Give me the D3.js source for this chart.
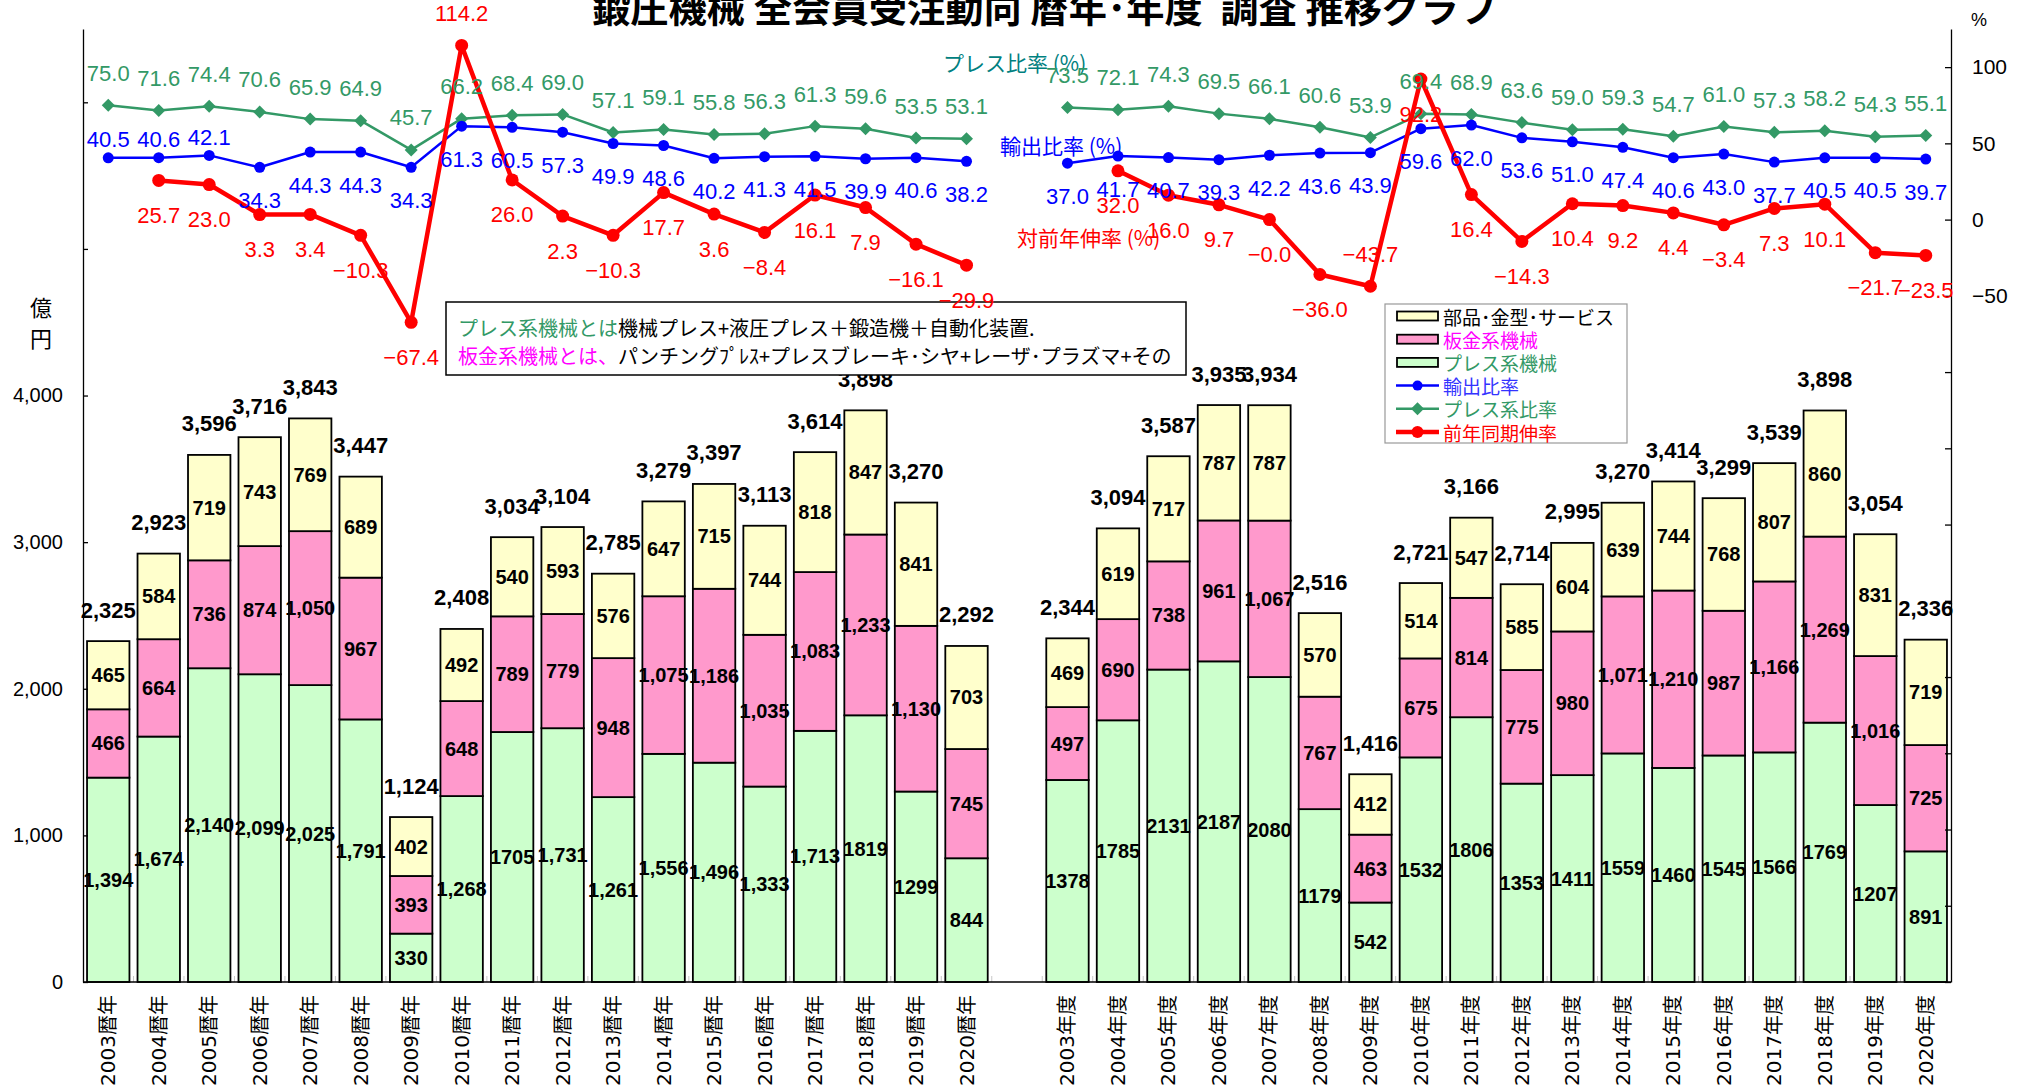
<!DOCTYPE html>
<html><head><meta charset="utf-8">
<script src="https://cdn.jsdelivr.net/npm/d3@7"></script>
<style>body{margin:0;background:#fff} svg{display:block}</style>
</head><body>
<svg id="c" width="2024" height="1092"></svg>
<script>
// ---------- DATA ----------
const categoriesCal = ["2003暦年","2004暦年","2005暦年","2006暦年","2007暦年","2008暦年","2009暦年","2010暦年","2011暦年","2012暦年","2013暦年","2014暦年","2015暦年","2016暦年","2017暦年","2018暦年","2019暦年","2020暦年"];
const categoriesFy = ["2003年度","2004年度","2005年度","2006年度","2007年度","2008年度","2009年度","2010年度","2011年度","2012年度","2013年度","2014年度","2015年度","2016年度","2017年度","2018年度","2019年度","2020年度"];

// 億円
const pressCal = [1394,1674,2140,2099,2025,1791,330,1268,1705,1731,1261,1556,1496,1333,1713,1819,1299,844];
const sheetCal = [466,664,736,874,1050,967,393,648,789,779,948,1075,1186,1035,1083,1233,1130,745];
const partsCal = [465,584,719,743,769,689,402,492,540,593,576,647,715,744,818,847,841,703];
const totalCal = [2325,2923,3596,3716,3843,3447,1124,2408,3034,3104,2785,3279,3397,3113,3614,3898,3270,2292];

const pressFy = [1378,1785,2131,2187,2080,1179,542,1532,1806,1353,1411,1559,1460,1545,1566,1769,1207,891];
const sheetFy = [497,690,738,961,1067,767,463,675,814,775,980,1071,1210,987,1166,1269,1016,725];
const partsFy = [469,619,717,787,787,570,412,514,547,585,604,639,744,768,807,860,831,719];
const totalFy = [2344,3094,3587,3935,3934,2516,1416,2721,3166,2714,2995,3270,3414,3299,3539,3898,3054,2336];

// %
const pressRatioCal = [75.0,71.6,74.4,70.6,65.9,64.9,45.7,66.2,68.4,69.0,57.1,59.1,55.8,56.3,61.3,59.6,53.5,53.1];
const exportRatioCal = [40.5,40.6,42.1,34.3,44.3,44.3,34.3,61.3,60.5,57.3,49.9,48.6,40.2,41.3,41.5,39.9,40.6,38.2];
const growthCal = [null,25.7,23.0,3.3,3.4,-10.3,-67.4,114.2,26.0,2.3,-10.3,17.7,3.6,-8.4,16.1,7.9,-16.1,-29.9];

const pressRatioFy = [73.5,72.1,74.3,69.5,66.1,60.6,53.9,69.4,68.9,63.6,59.0,59.3,54.7,61.0,57.3,58.2,54.3,55.1];
const exportRatioFy = [37.0,41.7,40.7,39.3,42.2,43.6,43.9,59.6,62.0,53.6,51.0,47.4,40.6,43.0,37.7,40.5,40.5,39.7];
const growthFy = [null,32.0,16.0,9.7,-0.0,-36.0,-43.7,92.2,16.4,-14.3,10.4,9.2,4.4,-3.4,7.3,10.1,-21.7,-23.5];

// axis ticks
const leftTicks = [0,1000,2000,3000,4000,5000,6000];
const leftTickLabels = ["0","1,000","2,000","3,000","4,000","",""];
const rightTicks = [-500,-450,-400,-350,-300,-250,-200,-150,-100,-50,0,50,100];
const rightTickLabels = ["","","","","","","","","","−50","0","50","100"];

// label placement exceptions
const exportLabelAbove = ["2003暦年","2004暦年","2005暦年"];
const growthLabelAbove = ["2010暦年","2009年度"];
const pressNoComma = ["2011暦年","2018暦年","2019暦年"].concat(categoriesFy);

// texts
const titleText = "鍛圧機械 全会員受注動向 暦年･年度  調査 推移グラフ";
const legendItems = [
  {label:"部品･金型･サービス", kind:"bar", key:"parts", color:"#000000"},
  {label:"板金系機械", kind:"bar", key:"sheet", color:"#FF00FF"},
  {label:"プレス系機械", kind:"bar", key:"press", color:"#339966"},
  {label:"輸出比率", kind:"line", key:"ex", color:"#3333FF"},
  {label:"プレス系比率", kind:"line", key:"pr", color:"#339966"},
  {label:"前年同期伸率", kind:"line", key:"gr", color:"#FF0000"}
];

// ---------- CHART ----------
const svg = d3.select("#c");
const NUM = "'Liberation Sans', Arial, 'Noto Sans CJK JP', sans-serif";
const CJK = "'Noto Sans CJK JP', 'Liberation Sans', sans-serif";
const plot = {left:83, right:1951, top:29, bottom:982};

const allCats = [...categoriesCal, "__gap__", ...categoriesFy];
const x = d3.scaleBand().domain(allCats).range([plot.left, plot.right]).paddingInner(0.16).paddingOuter(0.08);
const yL = d3.scaleLinear().domain([0,6500]).range([plot.bottom, plot.top]);
const yR = d3.scaleLinear().domain([-500,125]).range([plot.bottom, plot.top]);
const cx = c => x(c) + x.bandwidth()/2;

const rows = categoriesCal.map((c,i)=>({cat:c, press:pressCal[i], sheet:sheetCal[i], parts:partsCal[i], total:totalCal[i], pr:pressRatioCal[i], ex:exportRatioCal[i], gr:growthCal[i]}))
  .concat(categoriesFy.map((c,i)=>({cat:c, press:pressFy[i], sheet:sheetFy[i], parts:partsFy[i], total:totalFy[i], pr:pressRatioFy[i], ex:exportRatioFy[i], gr:growthFy[i]})));
const calRows = rows.slice(0, categoriesCal.length);
const fyRows = rows.slice(categoriesCal.length);

const fills = {press:"#CCFFCC", sheet:"#FF99CC", parts:"#FFFFCC"};
const layers = d3.stack().keys(["press","sheet","parts"])(rows);

// category boundary ticks (light)
const gTicks = svg.append("g").attr("stroke","#c8c8c8").attr("stroke-width",1);
allCats.forEach((c,i)=>{
  const bx = x(c) - (x.step()-x.bandwidth())/2;
  if (i>0) gTicks.append("line").attr("x1",bx).attr("x2",bx).attr("y1",plot.bottom).attr("y2",plot.bottom-6);
});

// bars
const gBars = svg.append("g");
layers.forEach(layer=>{
  gBars.append("g").selectAll("rect").data(layer).join("rect")
    .attr("x", d=>x(d.data.cat)).attr("width", x.bandwidth())
    .attr("y", d=>yL(d[1])).attr("height", d=>yL(d[0])-yL(d[1]))
    .attr("fill", fills[layer.key]).attr("stroke","#000").attr("stroke-width",1.8);
});

// axes
const gL = svg.append("g").attr("transform",`translate(${plot.left},0)`)
  .call(d3.axisLeft(yL).tickValues(leftTicks).tickSize(-5).tickSizeOuter(0).tickPadding(20).tickFormat((d,i)=>leftTickLabels[i]));
gL.attr("font-size",20).attr("font-family",NUM);
gL.selectAll("text").attr("fill","#000");
gL.selectAll("line,path").attr("stroke","#000").attr("stroke-width",1.3);

const gR = svg.append("g").attr("transform",`translate(${plot.right},0)`)
  .call(d3.axisRight(yR).tickValues(rightTicks).tickSize(-6).tickSizeOuter(0).tickPadding(21).tickFormat((d,i)=>rightTickLabels[i]));
gR.attr("font-size",21).attr("font-family",NUM);
gR.selectAll("text").attr("fill","#000");
gR.selectAll("line,path").attr("stroke","#000").attr("stroke-width",1.3);

svg.append("line").attr("x1",plot.left).attr("x2",plot.right).attr("y1",plot.bottom).attr("y2",plot.bottom)
  .attr("stroke","#000").attr("stroke-width",1.5);

// category labels (vertical)
svg.append("g").selectAll("text").data(rows).join("text")
  .attr("transform", d=>`translate(${cx(d.cat)},995) rotate(-90)`)
  .attr("text-anchor","end").attr("dominant-baseline","central")
  .attr("font-family","'DejaVu Sans', 'Noto Sans CJK JP', sans-serif").attr("font-size",20).attr("fill","#000")
  .text(d=>d.cat);

// axis unit labels
svg.append("text").attr("x",41).attr("y",306).attr("text-anchor","middle").attr("dominant-baseline","central")
  .attr("font-family",CJK).attr("font-size",22).text("億");
svg.append("text").attr("x",41).attr("y",337).attr("text-anchor","middle").attr("dominant-baseline","central")
  .attr("font-family",CJK).attr("font-size",22).text("円");
svg.append("text").attr("x",1971).attr("y",20).attr("dominant-baseline","central")
  .attr("font-family",NUM).attr("font-size",18).text("%");

// bar segment labels
const fmtC = d3.format(",");
const gBL = svg.append("g").attr("font-family",NUM).attr("font-weight","bold").attr("font-size",20)
  .attr("text-anchor","middle").attr("dominant-baseline","central").attr("fill","#000");
layers.forEach(layer=>{
  gBL.append("g").selectAll("text").data(layer).join("text")
    .attr("x", d=>cx(d.data.cat)).attr("y", d=>yL((d[0]+d[1])/2))
    .text(d=>{
      const v = d.data[layer.key];
      if (layer.key==="press" && pressNoComma.includes(d.data.cat)) return String(v);
      return fmtC(v);
    });
});
// totals
svg.append("g").attr("font-family",NUM).attr("font-weight","bold").attr("font-size",22)
  .attr("text-anchor","middle").attr("dominant-baseline","central")
  .selectAll("text").data(rows).join("text")
  .attr("x", d=>cx(d.cat)).attr("y", d=>yL(d.press+d.sheet+d.parts)-31).text(d=>fmtC(d.total));

// annotation box
const gBox = svg.append("g");
gBox.append("rect").attr("x",446).attr("y",302).attr("width",740).attr("height",73)
  .attr("fill","#fff").attr("stroke","#000").attr("stroke-width",1.5);
const t1 = gBox.append("text").attr("x",458).attr("y",327).attr("dominant-baseline","central")
  .attr("font-family",CJK).attr("font-size",20);
t1.append("tspan").attr("fill","#339966").text("プレス系機械とは");
t1.append("tspan").attr("fill","#000").text("機械プレス+液圧プレス＋鍛造機＋自動化装置.");
const t2 = gBox.append("text").attr("x",458).attr("y",355).attr("dominant-baseline","central")
  .attr("font-family",CJK).attr("font-size",20);
t2.append("tspan").attr("fill","#FF00FF").text("板金系機械とは、");
t2.append("tspan").attr("fill","#000").text("パンチングﾌﾟﾚｽ+プレスブレーキ･シヤ+レーザ･プラズマ+その");

// legend
const gLeg = svg.append("g");
gLeg.append("rect").attr("x",1385).attr("y",304).attr("width",242).attr("height",139)
  .attr("fill","#fff").attr("stroke","#999").attr("stroke-width",1.2);
const lineStyle = {
  ex:{stroke:"#0000FF", width:2.5, marker:"circle", r:5.5},
  pr:{stroke:"#339966", width:2.5, marker:"diamond", r:6.5},
  gr:{stroke:"#FF0000", width:4.5, marker:"circle", r:6.5}
};
legendItems.forEach((it,i)=>{
  const yy = 316 + i*23.2;
  if (it.kind==="bar") {
    gLeg.append("rect").attr("x",1397).attr("y",yy-4.5).attr("width",41).attr("height",9)
      .attr("fill",fills[it.key]).attr("stroke","#000").attr("stroke-width",1.8);
  } else {
    const st = lineStyle[it.key];
    gLeg.append("line").attr("x1",1396).attr("x2",1439).attr("y1",yy).attr("y2",yy)
      .attr("stroke",st.stroke).attr("stroke-width",st.width);
    if (st.marker==="circle") gLeg.append("circle").attr("cx",1417.5).attr("cy",yy).attr("r",st.r-0.5).attr("fill",st.stroke);
    else gLeg.append("path").attr("d",`M1417.5,${yy-st.r}L${1417.5+st.r},${yy}L1417.5,${yy+st.r}L${1417.5-st.r},${yy}Z`).attr("fill",st.stroke);
  }
  gLeg.append("text").attr("x",1443).attr("y",yy).attr("dominant-baseline","central")
    .attr("font-family",CJK).attr("font-size",19).attr("fill",it.color).text(it.label);
});

// series name annotations
const notes = [
  {t:"プレス比率 (%)", x:943, y:62, c:"#008080"},
  {t:"輸出比率 (%)", x:1000, y:145, c:"#0000FF"},
  {t:"対前年伸率 (%)", x:1017, y:237, c:"#FF0000"}
];
svg.append("g").selectAll("text").data(notes).join("text")
  .attr("x",d=>d.x).attr("y",d=>d.y).attr("dominant-baseline","central")
  .attr("font-family",CJK).attr("font-size",21).attr("fill",d=>d.c).text(d=>d.t);

// lines
const gLines = svg.append("g");
function drawSeries(key){
  const st = lineStyle[key];
  const line = d3.line().defined(d=>d[key]!=null).x(d=>cx(d.cat)).y(d=>yR(d[key]));
  [calRows, fyRows].forEach(part=>{
    gLines.append("path").datum(part).attr("d",line).attr("fill","none")
      .attr("stroke",st.stroke).attr("stroke-width",st.width).attr("stroke-linejoin","round");
    const pts = part.filter(d=>d[key]!=null);
    if (st.marker==="circle") {
      gLines.append("g").selectAll("circle").data(pts).join("circle")
        .attr("cx",d=>cx(d.cat)).attr("cy",d=>yR(d[key])).attr("r",st.r).attr("fill",st.stroke);
    } else {
      gLines.append("g").selectAll("path").data(pts).join("path")
        .attr("d",d=>{const px=cx(d.cat), py=yR(d[key]), r=st.r; return `M${px},${py-r}L${px+r},${py}L${px},${py+r}L${px-r},${py}Z`;})
        .attr("fill",st.stroke);
    }
  });
}
drawSeries("pr");
drawSeries("ex");
drawSeries("gr");

// line labels
const fmtP = v => ((v<0 || Object.is(v,-0)) ? "−" : "") + Math.abs(v).toFixed(1);
const gLL = svg.append("g").attr("font-family",NUM).attr("font-size",22)
  .attr("text-anchor","middle").attr("dominant-baseline","central");
gLL.append("g").attr("fill","#339966").selectAll("text").data(rows).join("text")
  .attr("x",d=>cx(d.cat)).attr("y",d=>yR(d.pr)-32).text(d=>fmtP(d.pr));
gLL.append("g").attr("fill","#0000FF").selectAll("text").data(rows).join("text")
  .attr("x",d=>cx(d.cat)).attr("y",d=>yR(d.ex)+(exportLabelAbove.includes(d.cat)?-18:33)).text(d=>fmtP(d.ex));
gLL.append("g").attr("fill","#FF0000").selectAll("text").data(rows.filter(d=>d.gr!=null)).join("text")
  .attr("x",d=>cx(d.cat)).attr("y",d=>yR(d.gr)+(growthLabelAbove.includes(d.cat)?-32:35)).text(d=>fmtP(d.gr));

// title
svg.append("text").attr("x",592).attr("y",22).attr("font-family",CJK).attr("font-weight","bold")
  .style("white-space","pre")
  .attr("font-size",38).attr("textLength",905).attr("lengthAdjust","spacingAndGlyphs").attr("fill","#000").text(titleText);
</script>
</body></html>
